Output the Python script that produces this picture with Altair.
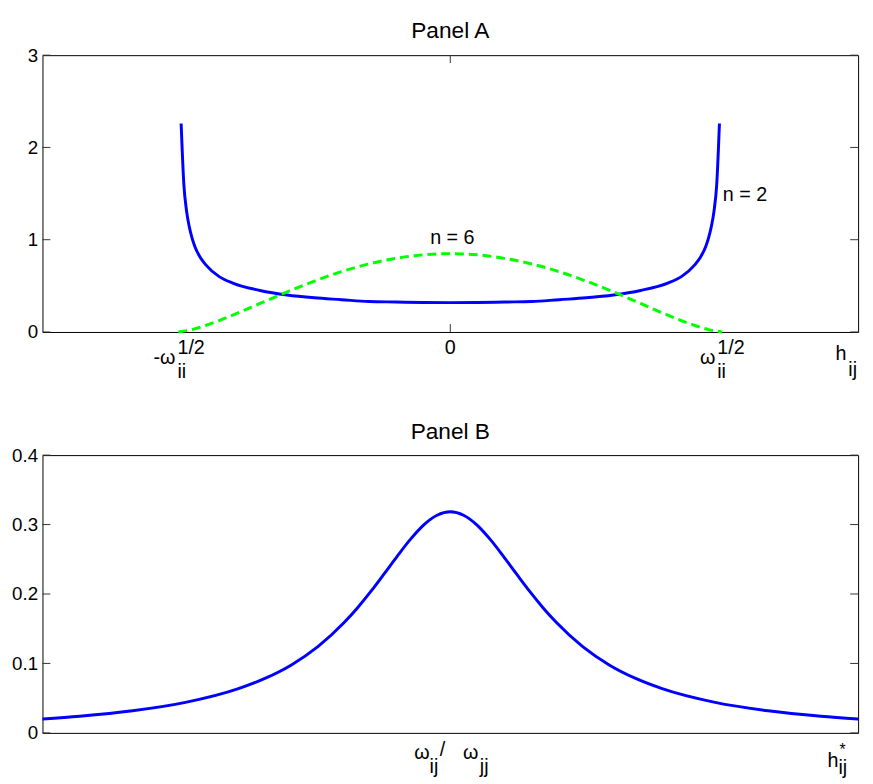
import altair as alt
import pandas as pd

FONT = "Liberation Sans"
BLUE = "#0000ff"
GREEN = "#00ff00"
TICK = "#333333"

# ---------------- data ----------------
# Panel A, n = 2 curve
n2_x = [-0.99, -0.98, -0.97, -0.96, -0.95, -0.94, -0.92, -0.90, -0.85, -0.80,
        -0.70, -0.60, -0.50, -0.40, -0.30, -0.20, -0.10, 0.00,
        0.10, 0.20, 0.30, 0.40, 0.50, 0.60, 0.70, 0.80, 0.85, 0.90,
        0.92, 0.94, 0.95, 0.96, 0.97, 0.98, 0.99]
n2_y = [2.26, 1.60, 1.31, 1.14, 1.02, 0.93, 0.81, 0.73, 0.60, 0.53,
        0.45, 0.40, 0.37, 0.35, 0.33, 0.325, 0.32, 0.318,
        0.32, 0.325, 0.33, 0.35, 0.37, 0.40, 0.45, 0.53, 0.60, 0.73,
        0.81, 0.93, 1.02, 1.14, 1.31, 1.60, 2.26]
# Panel A, n = 6 curve
n6_x = [-1.00, -0.95, -0.90, -0.85, -0.80, -0.70, -0.60, -0.50, -0.40, -0.30,
        -0.20, -0.10, 0.00, 0.10, 0.20, 0.30, 0.40, 0.50, 0.60, 0.70,
        0.80, 0.85, 0.90, 0.95, 1.00]
n6_y = [0.0, 0.026, 0.070, 0.124, 0.183, 0.309, 0.435, 0.551, 0.654, 0.737,
        0.798, 0.836, 0.849, 0.836, 0.798, 0.737, 0.654, 0.551, 0.435, 0.309,
        0.183, 0.124, 0.070, 0.026, 0.0]
# Panel B curve
b_x = [-3.85, -3.5, -3.0, -2.5, -2.0, -1.75, -1.5, -1.25, -1.0, -0.875, -0.75,
       -0.625, -0.5, -0.375, -0.25, -0.125, 0.0, 0.125, 0.25, 0.375, 0.5,
       0.625, 0.75, 0.875, 1.0, 1.25, 1.5, 1.75, 2.0, 2.5, 3.0, 3.5, 3.85]
b_y = [0.0201, 0.0240, 0.0318, 0.0439, 0.0637, 0.0784, 0.0979, 0.1242, 0.1592,
       0.1803, 0.2037, 0.2289, 0.2546, 0.2790, 0.2996, 0.3134, 0.3183, 0.3134,
       0.2996, 0.2790, 0.2546, 0.2289, 0.2037, 0.1803, 0.1592, 0.1242, 0.0979,
       0.0784, 0.0637, 0.0439, 0.0318, 0.0240, 0.0201]

a_xdomain = [-1.5, 1.5]
a_ydomain = [0, 3]
a_yticks = [0, 1, 2, 3]
a_xticks = [0]
b_xdomain = [-3.85, 3.85]
b_ydomain = [0, 0.4]
b_yticks = [0, 0.1, 0.2, 0.3, 0.4]

ann_text = ["n = 2", "n = 6"]
ann_x = [1.0025, -0.074]
ann_y = [1.415, 0.952]

W = 828
HA = 281
HB = 282


def txt(xval, text, scale, dx, ypix, size=20, align="left"):
    df = pd.DataFrame({"x": [xval], "t": [text]})
    return alt.Chart(df).mark_text(
        font=FONT, fontSize=size, align=align, baseline="alphabetic",
        dx=dx, color="black"
    ).encode(x=alt.X("x:Q", scale=scale), y=alt.value(ypix), text="t:N")


def yticks_layers(vals, yscale):
    df = pd.DataFrame({"v": vals})
    left = alt.Chart(df).mark_rule(color=TICK, strokeWidth=1).encode(
        y=alt.Y("v:Q", scale=yscale), x=alt.value(0), x2=alt.value(8))
    right = alt.Chart(df).mark_rule(color=TICK, strokeWidth=1).encode(
        y=alt.Y("v:Q", scale=yscale), x=alt.value(W - 8), x2=alt.value(W))
    return [left, right]


def frame_anchor(x0, y0, y1):
    # invisible guide that fixes the outer bounds of the layout
    return alt.Chart(pd.DataFrame({"k": [0]})).mark_rule(
        color="white", strokeOpacity=0, strokeWidth=1
    ).encode(x=alt.value(x0), x2=alt.value(x0), y=alt.value(y0), y2=alt.value(y1))


# ---------------- Panel A ----------------
xsA = alt.Scale(domain=a_xdomain, nice=False, zero=False)
ysA = alt.Scale(domain=a_ydomain, nice=False)

dfA2 = pd.DataFrame({"x": n2_x, "y": n2_y})
dfA6 = pd.DataFrame({"x": n6_x, "y": n6_y})

lineA2 = alt.Chart(dfA2).mark_line(color=BLUE, strokeWidth=3, interpolate="monotone").encode(
    x=alt.X("x:Q", scale=xsA, axis=None),
    y=alt.Y("y:Q", scale=ysA, title=None,
            axis=alt.Axis(values=a_yticks, format="d", tickSize=0, domain=False,
                          grid=False, labelFont=FONT, labelFontSize=19,
                          labelPadding=5, labelColor="black")),
)
lineA6 = alt.Chart(dfA6).mark_line(color=GREEN, strokeWidth=3, strokeDash=[9, 5],
                                   interpolate="monotone").encode(
    x=alt.X("x:Q", scale=xsA), y=alt.Y("y:Q", scale=ysA))

dfAnn = pd.DataFrame({"x": ann_x, "y": ann_y, "t": ann_text})
annA = alt.Chart(dfAnn).mark_text(font=FONT, fontSize=20, align="left",
                                  baseline="alphabetic", color="black").encode(
    x=alt.X("x:Q", scale=xsA), y=alt.Y("y:Q", scale=ysA), text="t:N")

dfXT = pd.DataFrame({"v": a_xticks})
xtA_top = alt.Chart(dfXT).mark_rule(color=TICK, strokeWidth=1).encode(
    x=alt.X("v:Q", scale=xsA), y=alt.value(0), y2=alt.value(8))
xtA_bot = alt.Chart(dfXT).mark_rule(color=TICK, strokeWidth=1).encode(
    x=alt.X("v:Q", scale=xsA), y=alt.value(HA - 8), y2=alt.value(HA))

labelsA = [
    txt(0, "Panel A", xsA, 0, -17, size=23, align="center"),
    txt(-1, "-\u03c9", xsA, -3, 313, align="right"),
    txt(-1, "1/2", xsA, -1, 303),
    txt(-1, "ii", xsA, -1, 328),
    txt(0, "0", xsA, 0, 303, align="center"),
    txt(1, "\u03c9", xsA, -7, 313, align="right"),
    txt(1, "1/2", xsA, -5, 303),
    txt(1, "ii", xsA, -5, 328),
    txt(1.5, "h", xsA, -23, 309),
    txt(1.5, "ij", xsA, -10, 326),
]

panelA = alt.layer(
    frame_anchor(-34, -41, 0),
    lineA2, lineA6, annA, xtA_top, xtA_bot, *yticks_layers(a_yticks, ysA), *labelsA
).properties(width=W, height=HA)

# ---------------- Panel B ----------------
xsB = alt.Scale(domain=b_xdomain, nice=False, zero=False)
ysB = alt.Scale(domain=b_ydomain, nice=False)
dfB = pd.DataFrame({"x": b_x, "y": b_y})

lineB = alt.Chart(dfB).mark_line(color=BLUE, strokeWidth=3, interpolate="monotone").encode(
    x=alt.X("x:Q", scale=xsB, axis=None),
    y=alt.Y("y:Q", scale=ysB, title=None,
            axis=alt.Axis(values=b_yticks, tickSize=0, domain=False, grid=False,
                          labelFont=FONT, labelFontSize=19, labelPadding=5,
                          labelColor="black",
                          labelExpr="datum.value == 0 ? '0' : format(datum.value, '.1f')")),
)

labelsB = [
    txt(0, "Panel B", xsB, 0, -16, size=23, align="center"),
    txt(0, "\u03c9", xsB, -21, 308, align="right"),
    txt(0, "ij", xsB, -21, 323),
    txt(0, "/", xsB, -8, 305, align="center"),
    txt(0, "\u03c9", xsB, 13, 308),
    txt(0, "jj", xsB, 30, 323),
    txt(3.85, "h", xsB, -31, 317),
    txt(3.85, "*", xsB, -19, 304, size=16),
    txt(3.85, "ij", xsB, -20, 324),
]

panelB = alt.layer(
    frame_anchor(-34, 0, HB),
    lineB, *yticks_layers(b_yticks, ysB), *labelsB
).properties(width=W, height=HB)

chart = alt.vconcat(panelA, panelB, spacing=125, bounds="flush").properties(
    padding={"left": 0, "top": 0, "right": 0, "bottom": 0}
).configure_view(stroke="black", strokeWidth=1)

chart.save("out.html", embed_options={"renderer": "svg", "actions": False})
